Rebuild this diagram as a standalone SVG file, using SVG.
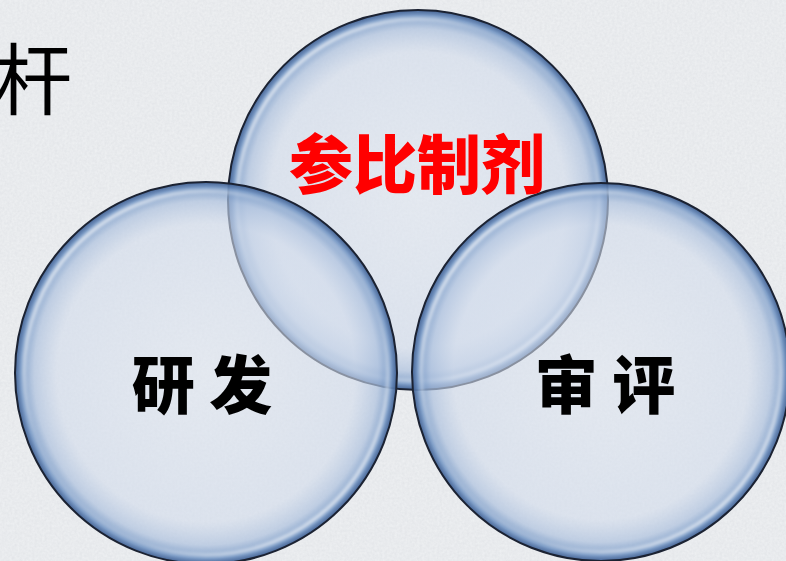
<svg xmlns="http://www.w3.org/2000/svg" width="786" height="561" viewBox="0 0 786 561">
  <defs>
    <filter id="noise" x="0" y="0" width="100%" height="100%">
      <feTurbulence type="fractalNoise" baseFrequency="0.4" numOctaves="3" seed="4" result="n"/>
      <feColorMatrix in="n" type="matrix" values="0 0 0 0 0.62  0 0 0 0 0.64  0 0 0 0 0.68  0 0 0 0.4 0"/>
    </filter>
    <radialGradient id="bubble" cx="0.5" cy="0.5" r="0.5">
      <stop offset="0" stop-color="#dfe6f1" stop-opacity="0.55"/>
      <stop offset="0.78" stop-color="#d2dcec" stop-opacity="0.6"/>
      <stop offset="0.9" stop-color="#adc1de" stop-opacity="0.7"/>
      <stop offset="0.97" stop-color="#7093c2" stop-opacity="0.9"/>
      <stop offset="1" stop-color="#3d5d90" stop-opacity="0.95"/>
    </radialGradient>
    <linearGradient id="shine" x1="0" y1="0" x2="1" y2="1">
      <stop offset="0" stop-color="#ffffff" stop-opacity="0.95"/>
      <stop offset="0.35" stop-color="#ffffff" stop-opacity="0.15"/>
      <stop offset="0.65" stop-color="#ffffff" stop-opacity="0.15"/>
      <stop offset="1" stop-color="#ffffff" stop-opacity="0.9"/>
    </linearGradient>
    <filter id="soft" x="-10%" y="-10%" width="120%" height="120%">
      <feGaussianBlur stdDeviation="1.5"/>
    </filter>
  </defs>
  <style>
    .bub { fill: url(#bubble); stroke: #1b2232; stroke-width: 2; }
    .shine { fill: none; stroke: url(#shine); stroke-width: 4; filter: url(#soft); }
    .lbl { font-family: "Noto Sans CJK SC", "Noto Sans CJK TC", sans-serif; font-weight: 900; text-anchor: middle; }
  </style>
  <rect x="0" y="0" width="786" height="561" fill="#eff1f3"/>
  <rect x="0" y="0" width="786" height="561" filter="url(#noise)"/>
  <text x="-6" y="109" font-family="Noto Sans CJK SC, sans-serif" font-size="78" fill="#000000">杆</text>

  <g id="node-top">
    <circle class="bub" cx="418" cy="200" r="190"/>
    <circle class="shine" cx="418" cy="200" r="181"/>
  </g>
  <g id="node-left">
    <circle class="bub" cx="206" cy="373" r="191"/>
    <circle class="shine" cx="206" cy="373" r="182"/>
  </g>
  <g id="node-right">
    <circle class="bub" cx="601" cy="372" r="189"/>
    <circle class="shine" cx="601" cy="372" r="180"/>
  </g>

  <g id="labels">
    <text class="lbl" x="417" y="188" font-size="64" fill="#ff0000">参比制剂</text>
    <text class="lbl" x="202" y="408" font-size="63" fill="#000000">研 发</text>
    <text class="lbl" x="605" y="408" font-size="63" fill="#000000">审 评</text>
  </g>
  <g id="connectors"/>
</svg>
